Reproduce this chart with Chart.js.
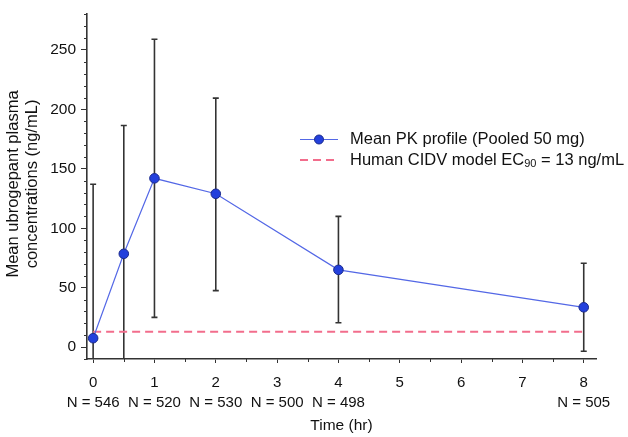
<!DOCTYPE html>
<html>
<head>
<meta charset="utf-8">
<script src="https://cdn.jsdelivr.net/npm/chart.js@4"></script>
<style>
  html, body { margin: 0; padding: 0; background: #fff; }
  #wrap { width: 628px; height: 437px; }
</style>
</head>
<body>
<div id="wrap"><canvas id="c" width="628" height="437"></canvas></div>
<script>
// ---- Data ----
const times = [0, 0.5, 1, 2, 4, 8];
const meanConc = [7.5, 78.5, 142, 129, 65, 33.5];
const upperBar = [137, 186.5, 259, 209.5, 110, 70.5];
const lowerBar = [-122, -29, 25, 47.5, 20.5, -3.5];
const ec90 = 13;
const ec90Times = [0, 8];
const xTickValues = [0, 1, 2, 3, 4, 5, 6, 7, 8];
const xTickLabels = [["0", "N = 546"], ["1", "N = 520"], ["2", "N = 530"], ["3", "N = 500"], ["4", "N = 498"], ["5"], ["6"], ["7"], ["8", "N = 505"]];
const yTickValues = [0, 50, 100, 150, 200, 250];
const yTickLabels = ["0", "50", "100", "150", "200", "250"];
const xTitle = "Time (hr)";
const yTitle = ["Mean ubrogepant plasma", "concentrations (ng/mL)"];
const legendLabels = ["Mean PK profile (Pooled 50 mg)", "Human CIDV model EC", "90", " = 13 ng/mL"];

const FONT = "'Liberation Sans', Arial, Helvetica, sans-serif";
const AXIS = '#333333';
const TEXT = '#111111';
const BLUE_LINE = '#5468e6';
const BLUE_PT = '#2340dc';
const BLUE_PT_BORDER = '#1b2a8c';
const PINK = '#f26d8c';

const errorBars = {
  id: 'errorBars',
  beforeDatasetsDraw(chart) {
    const {ctx, chartArea, scales: {x, y}} = chart;
    ctx.save();
    ctx.beginPath();
    ctx.rect(chartArea.left, chartArea.top, chartArea.right - chartArea.left, chartArea.bottom - chartArea.top);
    ctx.clip();
    ctx.strokeStyle = AXIS;
    ctx.lineWidth = 1.6;
    times.forEach((t, i) => {
      const px = x.getPixelForValue(t);
      const top = y.getPixelForValue(upperBar[i]);
      const bot = y.getPixelForValue(lowerBar[i]);
      ctx.beginPath();
      ctx.moveTo(px, top); ctx.lineTo(px, bot);
      ctx.moveTo(px - 3, top); ctx.lineTo(px + 3, top);
      ctx.moveTo(px - 3, bot); ctx.lineTo(px + 3, bot);
      ctx.stroke();
    });
    ctx.restore();
  }
};

const decorations = {
  id: 'decorations',
  afterDraw(chart) {
    const {ctx, chartArea, scales: {x, y}} = chart;
    ctx.save();
    // minor ticks
    ctx.strokeStyle = AXIS;
    ctx.lineWidth = 1;
    ctx.beginPath();
    for (let v = 0.5; v < 8; v += 1) {
      const px = Math.round(x.getPixelForValue(v)) + 0.5;
      ctx.moveTo(px, chartArea.bottom); ctx.lineTo(px, chartArea.bottom + 3);
    }
    for (let v = -10; v <= 280; v += 10) {
      if (v % 50 === 0) continue;
      const py = Math.round(y.getPixelForValue(v)) + 0.5;
      ctx.moveTo(chartArea.left, py); ctx.lineTo(chartArea.left - 3, py);
    }
    ctx.stroke();

    ctx.fillStyle = TEXT;
    ctx.textAlign = 'center';
    ctx.textBaseline = 'middle';
    // x title
    ctx.font = '15.5px ' + FONT;
    ctx.fillText(xTitle, (chartArea.left + chartArea.right) / 2, 426);
    // y title
    ctx.font = '16.5px ' + FONT;
    ctx.save();
    ctx.translate(0, 184);
    ctx.rotate(-Math.PI / 2);
    ctx.fillText(yTitle[0], 0, 13);
    ctx.fillText(yTitle[1], 0, 32);
    ctx.restore();

    // legend
    const lx0 = 300, lx1 = 338, tx = 350, ly1 = 139.5, ly2 = 160;
    ctx.strokeStyle = BLUE_LINE;
    ctx.lineWidth = 1.2;
    ctx.beginPath(); ctx.moveTo(lx0, ly1); ctx.lineTo(lx1, ly1); ctx.stroke();
    ctx.beginPath(); ctx.arc((lx0 + lx1) / 2, ly1, 4.5, 0, Math.PI * 2);
    ctx.fillStyle = BLUE_PT; ctx.fill();
    ctx.strokeStyle = BLUE_PT_BORDER; ctx.lineWidth = 1; ctx.stroke();
    ctx.strokeStyle = PINK; ctx.lineWidth = 2; ctx.setLineDash([8, 5]);
    ctx.beginPath(); ctx.moveTo(lx0, ly2); ctx.lineTo(lx1, ly2); ctx.stroke();
    ctx.setLineDash([]);
    ctx.fillStyle = TEXT;
    ctx.textAlign = 'left';
    ctx.font = '16.5px ' + FONT;
    ctx.fillText(legendLabels[0], tx, ly1);
    let cx = tx;
    ctx.fillText(legendLabels[1], cx, ly2);
    cx += ctx.measureText(legendLabels[1]).width;
    ctx.font = '11px ' + FONT;
    ctx.fillText(legendLabels[2], cx, ly2 + 4);
    cx += ctx.measureText(legendLabels[2]).width;
    ctx.font = '16.5px ' + FONT;
    ctx.fillText(legendLabels[3], cx, ly2);
    ctx.restore();
  }
};

new Chart(document.getElementById('c'), {
  type: 'scatter',
  data: {
    datasets: [
      {
        label: 'Human CIDV model EC90 = 13 ng/mL',
        data: ec90Times.map(t => ({x: t, y: ec90})),
        showLine: true,
        borderColor: PINK,
        borderWidth: 2,
        borderDash: [8, 5],
        pointRadius: 0,
        order: 2
      },
      {
        label: 'Mean PK profile (Pooled 50 mg)',
        data: times.map((t, i) => ({x: t, y: meanConc[i]})),
        showLine: true,
        borderColor: BLUE_LINE,
        borderWidth: 1.2,
        pointRadius: 4.8,
        pointBackgroundColor: BLUE_PT,
        pointBorderColor: BLUE_PT_BORDER,
        pointBorderWidth: 1,
        order: 1
      }
    ]
  },
  options: {
    responsive: false,
    animation: false,
    devicePixelRatio: 1,
    layout: { padding: { top: 3, right: 32, left: 0, bottom: 0 } },
    plugins: { legend: { display: false }, tooltip: { enabled: false } },
    scales: {
      x: {
        type: 'linear',
        min: -0.1,
        max: 8.2,
        afterBuildTicks: (s) => { s.ticks = xTickValues.map(v => ({value: v})); },
        afterFit: (s) => { s.height = 78; },
        border: { color: AXIS, width: 1.6 },
        grid: { drawOnChartArea: false, drawTicks: true, tickLength: 4, color: AXIS, tickWidth: 1 },
        ticks: {
          color: TEXT,
          padding: 10,
          maxRotation: 0,
          autoSkip: false,
          font: { family: FONT, size: 15, lineHeight: 1.333 },
          callback: (v) => { const i = xTickValues.indexOf(v); return i >= 0 ? xTickLabels[i] : ''; }
        }
      },
      y: {
        type: 'linear',
        min: -10,
        max: 280,
        afterBuildTicks: (s) => { s.ticks = yTickValues.map(v => ({value: v})); },
        afterFit: (s) => { s.width = 87; },
        border: { color: AXIS, width: 1.6 },
        grid: { drawOnChartArea: false, drawTicks: true, tickLength: 6, color: AXIS, tickWidth: 1 },
        ticks: {
          color: TEXT,
          padding: 5,
          font: { family: FONT, size: 15.5 },
          callback: (v) => { const i = yTickValues.indexOf(v); return i >= 0 ? yTickLabels[i] : ''; }
        }
      }
    }
  },
  plugins: [errorBars, decorations]
});
</script>
</body>
</html>
